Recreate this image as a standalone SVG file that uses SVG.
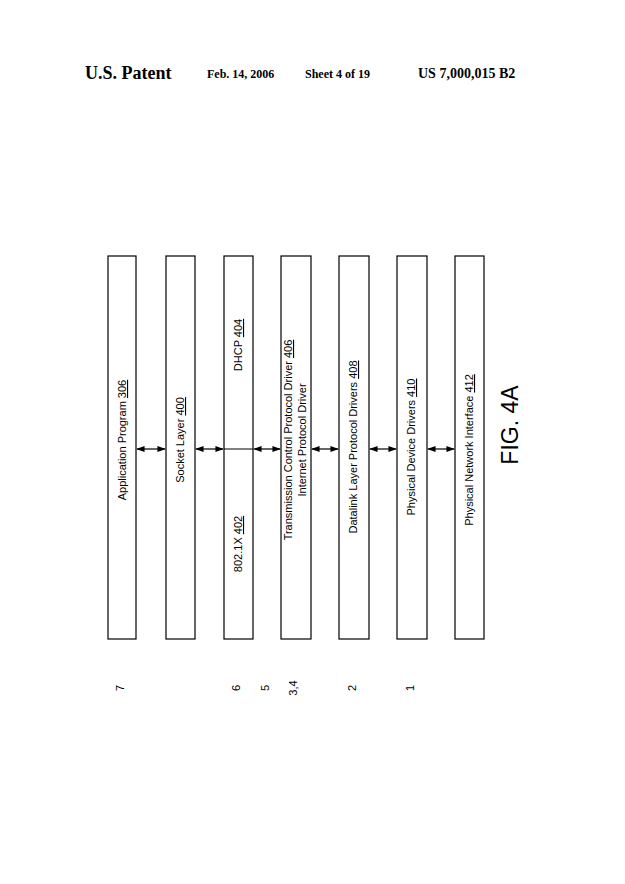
<svg xmlns="http://www.w3.org/2000/svg" width="625" height="884" viewBox="0 0 625 884">
<style>
.b{fill:#fff;stroke:#000;stroke-width:1.2}
.t{font-family:"Liberation Sans",Arial,sans-serif;font-size:11px;text-anchor:middle}
.h{font-family:"Liberation Serif","Times New Roman",serif;font-weight:bold}
.c{stroke:#000;stroke-width:1.2;marker-start:url(#a);marker-end:url(#a)}
</style>
<defs><marker id="a" viewBox="0 0 10 10" refX="9" refY="5" markerWidth="7" markerHeight="7" orient="auto-start-reverse"><path d="M0,1.5L10,5L0,8.5z" fill="#000"/></marker></defs>
<rect width="625" height="884" fill="#fff"/>
<text class="h" x="85" y="79" font-size="18">U.S. Patent</text>
<text class="h" x="207" y="78" font-size="12">Feb. 14, 2006</text>
<text class="h" x="305" y="78" font-size="12">Sheet 4 of 19</text>
<text class="h" x="418" y="78" font-size="14">US 7,000,015 B2</text>
<g id="n306"><rect class="b" x="108" y="256" width="28" height="383"/><text class="t" transform="translate(126,440) rotate(-90)">Application Program <tspan text-decoration="underline">306</tspan></text></g>
<g id="n400"><rect class="b" x="166" y="256" width="29" height="383"/><text class="t" transform="translate(184,440) rotate(-90)">Socket Layer <tspan text-decoration="underline">400</tspan></text></g>
<g id="n402_404"><rect class="b" x="224" y="256" width="29" height="383"/><line x1="224" y1="449" x2="253" y2="449" stroke="#000"/><text class="t" transform="translate(242,345) rotate(-90)">DHCP <tspan text-decoration="underline">404</tspan></text><text class="t" transform="translate(242,544) rotate(-90)">802.1X <tspan text-decoration="underline">402</tspan></text></g>
<g id="n406"><rect class="b" x="281" y="256" width="30" height="383"/><text class="t" transform="translate(292,440) rotate(-90)">Transmission Control Protocol Driver <tspan text-decoration="underline">406</tspan></text><text class="t" transform="translate(306,440) rotate(-90)">Internet Protocol Driver</text></g>
<g id="n408"><rect class="b" x="339" y="256" width="30" height="383"/><text class="t" transform="translate(357,447) rotate(-90)">Datalink Layer Protocol Drivers <tspan text-decoration="underline">408</tspan></text></g>
<g id="n410"><rect class="b" x="397" y="256" width="30" height="383"/><text class="t" transform="translate(415,447) rotate(-90)">Physical Device Drivers <tspan text-decoration="underline">410</tspan></text></g>
<g id="n412"><rect class="b" x="455" y="256" width="29" height="383"/><text class="t" transform="translate(473,450) rotate(-90)">Physical Network Interface <tspan text-decoration="underline">412</tspan></text></g>
<g id="connectors">
<line class="c" x1="137" y1="449" x2="165" y2="449"/>
<line class="c" x1="196" y1="449" x2="223" y2="449"/>
<line class="c" x1="254" y1="449" x2="280" y2="449"/>
<line class="c" x1="312" y1="449" x2="338" y2="449"/>
<line class="c" x1="370" y1="449" x2="396" y2="449"/>
<line class="c" x1="428" y1="449" x2="454" y2="449"/>
</g>
<g class="t">
<text transform="translate(124,688) rotate(-90)">7</text>
<text transform="translate(240,688) rotate(-90)">6</text>
<text transform="translate(269,688) rotate(-90)">5</text>
<text transform="translate(297,688) rotate(-90)">3,4</text>
<text transform="translate(356,688) rotate(-90)">2</text>
<text transform="translate(414,688) rotate(-90)">1</text>
</g>
<text transform="translate(518,425) rotate(-90)" style="font-family:'Liberation Sans',Arial,sans-serif;font-size:23px;text-anchor:middle">FIG. 4A</text>
</svg>
